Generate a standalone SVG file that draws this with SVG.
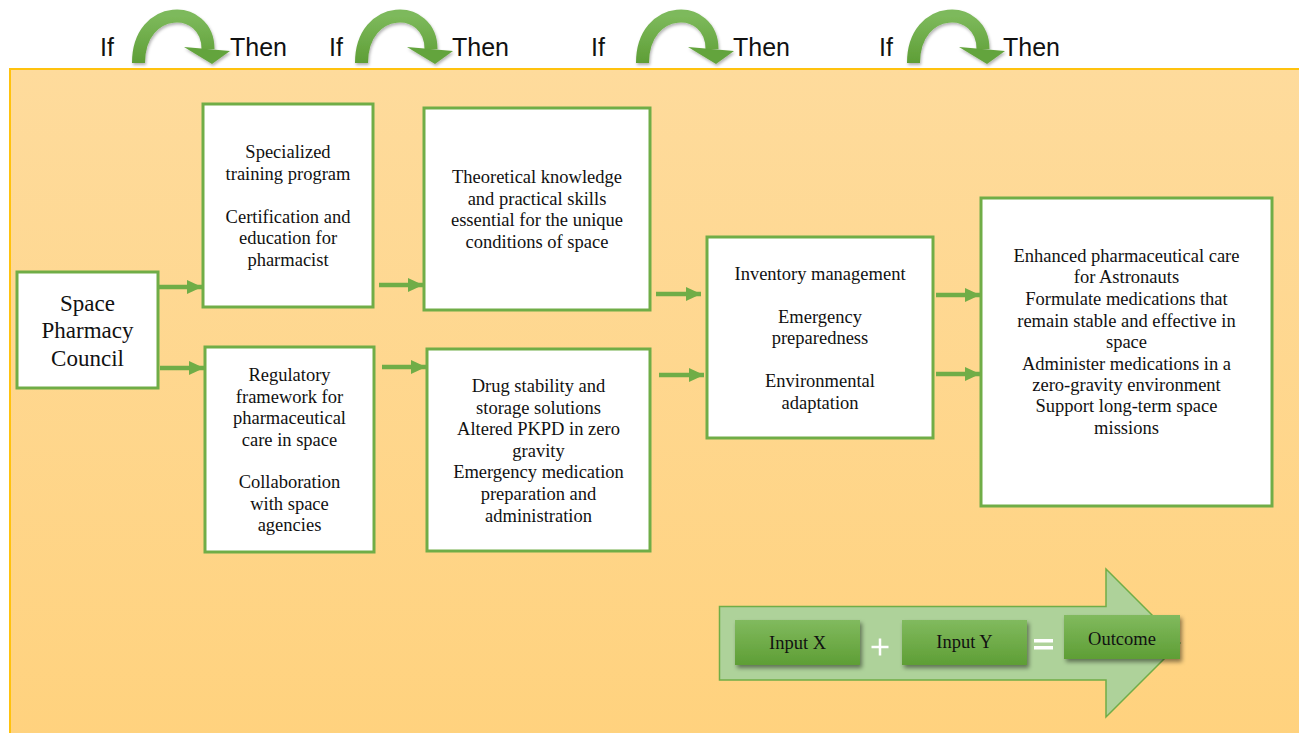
<svg xmlns="http://www.w3.org/2000/svg" width="1299" height="733" viewBox="0 0 1299 733">
<defs>
<linearGradient id="bg" x1="0" y1="0" x2="0" y2="1"><stop offset="0" stop-color="#FEDB9C"/><stop offset="1" stop-color="#FFD27E"/></linearGradient>
<linearGradient id="gbtn" x1="0" y1="0" x2="0" y2="1"><stop offset="0" stop-color="#81BA5E"/><stop offset="1" stop-color="#5E9E35"/></linearGradient>
<linearGradient id="garc" x1="0" y1="0" x2="0" y2="1"><stop offset="0" stop-color="#7DB95B"/><stop offset="1" stop-color="#5E9E36"/></linearGradient>
<filter id="sh" x="-20%" y="-20%" width="150%" height="160%"><feDropShadow dx="2" dy="3" stdDeviation="2" flood-color="#000" flood-opacity="0.45"/></filter>
<filter id="sh2" x="-20%" y="-20%" width="150%" height="160%"><feDropShadow dx="1" dy="2" stdDeviation="1.5" flood-color="#000" flood-opacity="0.3"/></filter>
<marker id="ah" markerUnits="userSpaceOnUse" markerWidth="16" markerHeight="16" refX="15" refY="8" orient="auto"><path d="M0,1 L15,8 L0,15 Z" fill="#70AD47"/></marker>
<g id="carc">
<path d="M6.5,63 C6.5,3 76,3 76,49" fill="none" stroke="url(#garc)" stroke-width="13"/>
<polygon points="52,47 98,51 80,64" fill="#64A43C"/>
</g>
</defs>
<style>
.box{fill:#FFFFFF;stroke:#70AD47;stroke-width:3}
.t{font-family:"Liberation Serif","Times New Roman",serif;font-size:18.5px;fill:#111;text-anchor:middle}
.big{font-size:23px}
.lbl{font-family:"Liberation Sans",Arial,sans-serif;font-size:25px;fill:#111}
.con{stroke:#70AD47;stroke-width:4.5;fill:none;marker-end:url(#ah)}
.btn{fill:url(#gbtn);filter:url(#sh)}
</style>
<rect x="0" y="0" width="1299" height="733" fill="#FFFFFF"/>
<rect x="10" y="69" width="1290" height="670" fill="url(#bg)" stroke="#FFC20E" stroke-width="2"/>

<g id="ifthen">
<text class="lbl" x="100" y="56">If</text>
<use href="#carc" x="132" y="0" filter="url(#sh2)"/>
<text class="lbl" x="230" y="56">Then</text>
<text class="lbl" x="329" y="56">If</text>
<use href="#carc" x="355" y="0" filter="url(#sh2)"/>
<text class="lbl" x="452" y="56">Then</text>
<text class="lbl" x="591" y="56">If</text>
<use href="#carc" x="636" y="0" filter="url(#sh2)"/>
<text class="lbl" x="733" y="56">Then</text>
<text class="lbl" x="879" y="56">If</text>
<use href="#carc" x="907" y="0" filter="url(#sh2)"/>
<text class="lbl" x="1003" y="56">Then</text>
</g>

<g id="council">
<rect class="box" x="17" y="272" width="141" height="116"/>
<text class="t big" x="87.5" y="311">Space</text>
<text class="t big" x="87.5" y="338">Pharmacy</text>
<text class="t big" x="87.5" y="366">Council</text>
</g>

<g id="training">
<rect class="box" x="203" y="104" width="170" height="203"/>
<text class="t" x="288" y="158">Specialized</text>
<text class="t" x="288" y="180">training program</text>
<text class="t" x="288" y="223">Certification and</text>
<text class="t" x="288" y="244">education for</text>
<text class="t" x="288" y="266">pharmacist</text>
</g>

<g id="knowledge">
<rect class="box" x="424" y="108" width="226" height="202"/>
<text class="t" x="537" y="183">Theoretical knowledge</text>
<text class="t" x="537" y="205">and practical skills</text>
<text class="t" x="537" y="226">essential for the unique</text>
<text class="t" x="537" y="248">conditions of space</text>
</g>

<g id="regulatory">
<rect class="box" x="205" y="347" width="169" height="205"/>
<text class="t" x="289.5" y="381">Regulatory</text>
<text class="t" x="289.5" y="403">framework for</text>
<text class="t" x="289.5" y="424">pharmaceutical</text>
<text class="t" x="289.5" y="446">care in space</text>
<text class="t" x="289.5" y="488">Collaboration</text>
<text class="t" x="289.5" y="510">with space</text>
<text class="t" x="289.5" y="531">agencies</text>
</g>

<g id="drug">
<rect class="box" x="427" y="349" width="223" height="202"/>
<text class="t" x="538.5" y="392">Drug stability and</text>
<text class="t" x="538.5" y="414">storage solutions</text>
<text class="t" x="538.5" y="435">Altered PKPD in zero</text>
<text class="t" x="538.5" y="457">gravity</text>
<text class="t" x="538.5" y="478">Emergency medication</text>
<text class="t" x="538.5" y="500">preparation and</text>
<text class="t" x="538.5" y="522">administration</text>
</g>

<g id="inventory">
<rect class="box" x="707" y="237" width="226" height="201"/>
<text class="t" x="820" y="280">Inventory management</text>
<text class="t" x="820" y="323">Emergency</text>
<text class="t" x="820" y="344">preparedness</text>
<text class="t" x="820" y="387">Environmental</text>
<text class="t" x="820" y="409">adaptation</text>
</g>

<g id="outcomes">
<rect class="box" x="981" y="198" width="291" height="308"/>
<text class="t" x="1126.5" y="262">Enhanced pharmaceutical care</text>
<text class="t" x="1126.5" y="283">for Astronauts</text>
<text class="t" x="1126.5" y="305">Formulate medications that</text>
<text class="t" x="1126.5" y="327">remain stable and effective in</text>
<text class="t" x="1126.5" y="348">space</text>
<text class="t" x="1126.5" y="370">Administer medications in a</text>
<text class="t" x="1126.5" y="391">zero-gravity environment</text>
<text class="t" x="1126.5" y="412">Support long-term space</text>
<text class="t" x="1126.5" y="434">missions</text>
</g>

<g id="connectors">
<line class="con" x1="159" y1="287" x2="202" y2="287"/>
<line class="con" x1="160" y1="368" x2="204" y2="368"/>
<line class="con" x1="379" y1="285" x2="423" y2="285"/>
<line class="con" x1="382" y1="367" x2="426" y2="367"/>
<line class="con" x1="656" y1="294" x2="701" y2="294"/>
<line class="con" x1="659" y1="375" x2="704" y2="375"/>
<line class="con" x1="936" y1="295" x2="980" y2="295"/>
<line class="con" x1="936" y1="374" x2="980" y2="374"/>
</g>

<g id="legend">
<polygon points="719.5,606.5 1106,606.5 1106,569 1180,643 1106,717 1106,680 719.5,680" fill="#AED29A" stroke="#70AD47" stroke-width="1.5"/>
<g id="inputx">
<rect class="btn" x="735" y="620" width="125" height="45"/>
<text class="t" x="797.5" y="649">Input X</text>
</g>
<path d="M880,638.5 V655.5 M871.5,647 H888.5" stroke="#FFFFFF" stroke-width="2.5" fill="none"/>
<g id="inputy">
<rect class="btn" x="902" y="620" width="125" height="45"/>
<text class="t" x="964.5" y="648">Input Y</text>
</g>
<rect x="1034" y="639" width="19" height="3.5" fill="#FFFFFF"/>
<rect x="1034" y="646" width="19" height="3.5" fill="#FFFFFF"/>
<g id="outcome">
<rect class="btn" x="1064" y="615" width="116" height="44"/>
<text class="t" x="1122" y="645">Outcome</text>
</g>
</g>
</svg>
